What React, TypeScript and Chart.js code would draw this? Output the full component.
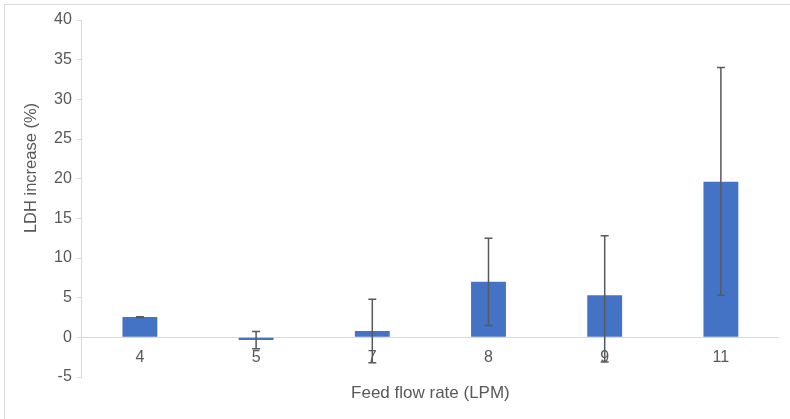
import React, { useEffect, useRef } from 'react';
import { Chart, registerables } from 'chart.js';

Chart.register(...registerables);

const categories: string[] = ['4', '5', '7', '8', '9', '11'];
const values: number[] = [2.55, -0.35, 0.8, 7.0, 5.3, 19.6];
const errPlus: number[] = [0.05, 1.1, 4.0, 5.5, 7.5, 14.4];
const errMinus: number[] = [0.05, 1.1, 4.0, 5.5, 8.4, 14.3];
const yTitle = 'LDH increase (%)';
const xTitle = 'Feed flow rate (LPM)';

const FONT = "'Liberation Sans', Arial, sans-serif";
const TEXT = '#595959';

const errorBarPlugin = {
  id: 'errorBars',
  afterDatasetsDraw(chart: any) {
    const meta = chart.getDatasetMeta(0);
    const ys = chart.scales.y;
    const ctx = chart.ctx;
    ctx.save();
    ctx.strokeStyle = '#595959';
    ctx.lineWidth = 1.5;
    meta.data.forEach((bar: any, i: number) => {
      const x = bar.x;
      const top = ys.getPixelForValue(values[i] + errPlus[i]);
      const bot = ys.getPixelForValue(values[i] - errMinus[i]);
      ctx.beginPath();
      ctx.moveTo(x, top);
      ctx.lineTo(x, bot);
      ctx.moveTo(x - 4, top);
      ctx.lineTo(x + 4, top);
      ctx.moveTo(x - 4, bot);
      ctx.lineTo(x + 4, bot);
      ctx.stroke();
    });
    ctx.restore();
  },
};

const yTitlePlugin = {
  id: 'yTitleCustom',
  afterDraw(chart: any) {
    const ctx = chart.ctx;
    ctx.save();
    ctx.translate(31, 168);
    ctx.rotate(-Math.PI / 2);
    ctx.font = `16.5px ${FONT}`;
    ctx.fillStyle = TEXT;
    ctx.textAlign = 'center';
    ctx.textBaseline = 'middle';
    ctx.fillText(yTitle, 0, 0);
    ctx.restore();
  },
};

export default function App() {
  const ref = useRef<HTMLCanvasElement | null>(null);
  useEffect(() => {
    if (!ref.current) return;
    const chart = new Chart(ref.current, {
      type: 'bar',
      data: {
        labels: categories,
        datasets: [
          {
            data: values,
            backgroundColor: '#4472C4',
            borderWidth: 0,
            barPercentage: 0.3,
            categoryPercentage: 1,
          },
        ],
      },
      options: {
        animation: false,
        responsive: false,
        maintainAspectRatio: false,
        layout: { padding: { left: 49, right: 11, top: 20, bottom: 42 } },
        plugins: { legend: { display: false }, tooltip: { enabled: false } },
        scales: {
          x: {
            position: { y: 0 } as any,
            grid: { display: false, drawTicks: false },
            border: { display: false },
            ticks: { color: TEXT, font: { size: 16, family: FONT }, padding: 11 },
            title: {
              display: true,
              text: xTitle,
              color: TEXT,
              font: { size: 17, family: FONT },
              padding: { top: 5, bottom: 0 },
            },
          },
          y: {
            min: -5,
            max: 40,
            ticks: { stepSize: 5, color: TEXT, font: { size: 16, family: FONT }, padding: 5 },
            grid: {
              color: (c: any) => (c.tick && c.tick.value === 0 ? '#d9d9d9' : 'rgba(0,0,0,0)'),
              tickColor: '#d9d9d9',
              tickLength: 5,
              lineWidth: 1,
            },
            border: { display: true, color: '#d9d9d9' },
          },
        },
      },
      plugins: [errorBarPlugin, yTitlePlugin],
    });
    return () => chart.destroy();
  }, []);
  return (
    <div style={{ position: 'fixed', left: 0, top: 0, width: 790, height: 419, overflow: 'hidden', background: '#fff' }}>
      <div style={{ position: 'absolute', left: 4, top: 4, width: 820, height: 440, border: '1px solid #d9d9d9' }} />
      <canvas ref={ref} width={790} height={419} style={{ position: 'absolute', left: 0, top: 0 }} />
    </div>
  );
}
